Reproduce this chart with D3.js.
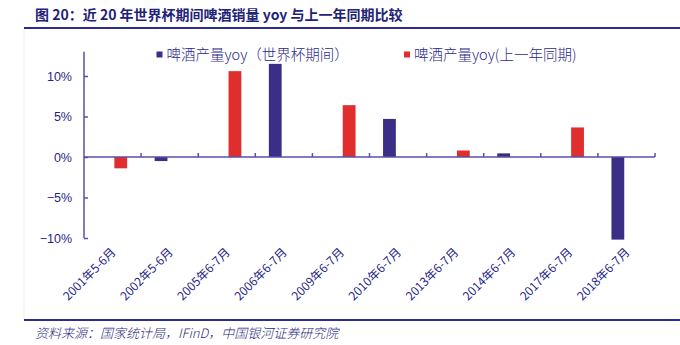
<!DOCTYPE html>
<html><head><meta charset="utf-8">
<script src="https://cdn.jsdelivr.net/npm/d3@7"></script>
<style>body{margin:0;background:#fff;}svg{display:block;}</style>
</head><body>
<script>
const categories = ["2001年5-6月","2002年5-6月","2005年6-7月","2006年6-7月","2009年6-7月","2010年6-7月","2013年6-7月","2014年6-7月","2017年6-7月","2018年6-7月"];
const worldCup = [null,-0.5,null,11.5,null,4.7,null,0.45,null,-10.2];
const prevYear = [-1.4,null,10.6,null,6.4,null,0.8,null,3.65,null];
const yTicks = [-10,-5,0,5,10];
const seriesNames = ["啤酒产量yoy（世界杯期间）","啤酒产量yoy(上一年同期)"];
const colors = ["#3b2e86","#e02e2e"];

const W=680,H=345;
const svg=d3.select("body").append("svg").attr("width",W).attr("height",H);
// title
svg.append("text").attr("x",35).attr("y",20).attr("fill","#1e2378")
  .attr("font-family","'Noto Sans CJK SC','Liberation Serif',serif").attr("font-weight","bold")
  .attr("font-size",14).text("图 20：近 20 年世界杯期间啤酒销量 yoy 与上一年同期比较");
svg.append("line").attr("x1",24).attr("x2",680).attr("y1",28).attr("y2",28).attr("stroke","#2b2b96").attr("stroke-width",2);
svg.append("line").attr("x1",24).attr("x2",24).attr("y1",29).attr("y2",319).attr("stroke","#ececec").attr("stroke-width",1);
svg.append("line").attr("x1",24).attr("x2",680).attr("y1",320).attr("y2",320).attr("stroke","#2b2b96").attr("stroke-width",2);
svg.append("text").attr("x",35).attr("y",338).attr("fill","#2a2a80")
  .attr("font-family","'Noto Sans CJK SC',sans-serif").attr("font-style","italic").attr("font-weight",300)
  .attr("font-size",13).text("资料来源：国家统计局，IFinD，中国银河证券研究院");

const x0=84,x1=655;
const x=d3.scaleBand().domain(categories).range([x0,x1]).paddingInner(0).paddingOuter(0);
const y=d3.scaleLinear().domain([-10,13]).range([238,51.7]);
const axisCol="#5a4fa6";
// bars
const bw=12.8, off=[-15,1.8];
[worldCup,prevYear].forEach((vals,si)=>{
  svg.append("g").selectAll("rect").data(categories.map((c,i)=>({c,v:vals[i]})).filter(d=>d.v!=null))
   .enter().append("rect")
   .attr("x",d=>x(d.c)+x.bandwidth()/2+off[si]).attr("width",bw)
   .attr("y",d=>Math.min(y(d.v),y(0))).attr("height",d=>Math.abs(y(d.v)-y(0)))
   .attr("fill",colors[si]);
});
// y axis
const ya=svg.append("g").attr("transform",`translate(${x0},0)`)
  .call(d3.axisLeft(y).tickValues(yTicks).tickSize(-4).tickPadding(12).tickFormat(d=>(d<0?"\u2212"+(-d):d)+"%"));
ya.select(".domain").attr("stroke",axisCol).attr("stroke-width",1.5).attr("d",`M0,${y(13)}V${y(-10)}`);
ya.selectAll(".tick line").attr("stroke",axisCol).attr("stroke-width",1.5);
ya.selectAll(".tick text").attr("fill","#1f1f8a").attr("font-family","Liberation Sans, Arial, sans-serif").attr("font-size",12.5);
// x axis at zero
const xa=svg.append("g").attr("transform",`translate(0,${y(0)})`)
  .call(d3.axisBottom(x).tickValues([]).tickSizeOuter(0));
xa.select(".domain").attr("stroke",axisCol).attr("stroke-width",1.5).attr("d",`M${x0},0H${x1}`);
const bounds=d3.range(1,categories.length+1).map(i=>x0+i*x.bandwidth());
xa.selectAll("line.tk").data(bounds).enter().append("line").attr("class","tk")
  .attr("x1",d=>d).attr("x2",d=>d).attr("y1",0).attr("y2",-4).attr("stroke",axisCol).attr("stroke-width",1.5);
// x labels at bottom
svg.append("g").selectAll("text").data(categories).enter().append("text")
  .attr("transform",d=>`translate(${x(d)+x.bandwidth()/2+1},${y(-10)+12}) rotate(-45)`)
  .attr("text-anchor","end").attr("dy","0.35em").attr("fill","#1f1f8a")
  .attr("font-family","'Noto Sans CJK SC','Liberation Sans',sans-serif").attr("font-size",12)
  .text(d=>d);
// legend
const lg=[{x:156.5,t:seriesNames[0],c:colors[0]},{x:404,t:seriesNames[1],c:colors[1]}];
lg.forEach(l=>{
  svg.append("rect").attr("x",l.x).attr("y",51.5).attr("width",6).attr("height",6).attr("fill",l.c);
  svg.append("text").attr("x",l.x+10).attr("y",55).attr("dy","0.35em").attr("fill","#2a2a8a")
   .attr("font-family","'Noto Sans CJK SC',sans-serif").attr("font-weight",300).attr("font-size",14.5).text(l.t);
});
</script>
</body></html>
